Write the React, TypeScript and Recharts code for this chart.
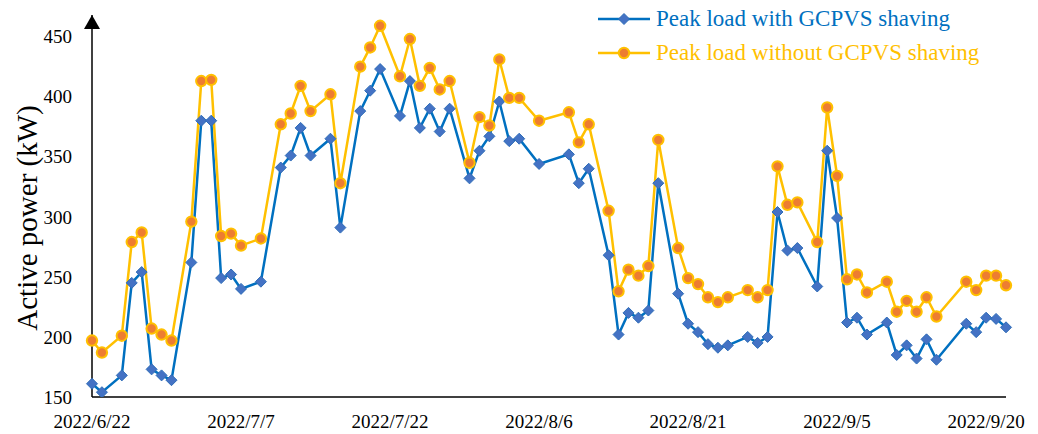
import React from 'react';
import { LineChart, Line, XAxis, YAxis, Legend } from 'recharts';

const dates = [
  "2022/6/22", "2022/6/23", "2022/6/25", "2022/6/26", "2022/6/27", "2022/6/28", "2022/6/29", "2022/6/30",
  "2022/7/2", "2022/7/3", "2022/7/4", "2022/7/5", "2022/7/6", "2022/7/7", "2022/7/9", "2022/7/11",
  "2022/7/12", "2022/7/13", "2022/7/14", "2022/7/16", "2022/7/17", "2022/7/19", "2022/7/20", "2022/7/21",
  "2022/7/23", "2022/7/24", "2022/7/25", "2022/7/26", "2022/7/27", "2022/7/28", "2022/7/30", "2022/7/31",
  "2022/8/1", "2022/8/2", "2022/8/3", "2022/8/4", "2022/8/6", "2022/8/9", "2022/8/10", "2022/8/11",
  "2022/8/13", "2022/8/14", "2022/8/15", "2022/8/16", "2022/8/17", "2022/8/18", "2022/8/20", "2022/8/21",
  "2022/8/22", "2022/8/23", "2022/8/24", "2022/8/25", "2022/8/27", "2022/8/28", "2022/8/29", "2022/8/30",
  "2022/8/31", "2022/9/1", "2022/9/3", "2022/9/4", "2022/9/5", "2022/9/6", "2022/9/7", "2022/9/8",
  "2022/9/10", "2022/9/11", "2022/9/12", "2022/9/13", "2022/9/14", "2022/9/15", "2022/9/18", "2022/9/19",
  "2022/9/20", "2022/9/21", "2022/9/22",
];

const withShaving = [
  161, 154, 168, 245, 254, 173, 168, 164,
  262, 380, 380, 249, 252, 240, 246, 341,
  351, 374, 351, 365, 291, 388, 405, 423,
  384, 413, 374, 390, 371, 390, 332, 355,
  367, 396, 363, 365, 344, 352, 328, 340,
  268, 202, 220, 216, 222, 328, 236, 211,
  204, 194, 191, 193, 200, 195, 200, 304,
  272, 274, 242, 355, 299, 212, 216, 202,
  212, 185, 193, 182, 198, 181, 211, 204,
  216, 215, 208,
];

const withoutShaving = [
  197, 187, 201, 279, 287, 207, 202, 197,
  296, 413, 414, 284, 286, 276, 282, 377,
  386, 409, 388, 402, 328, 425, 441, 459,
  417, 448, 409, 424, 406, 413, 345, 383,
  376, 431, 399, 399, 380, 387, 362, 377,
  305, 238, 256, 251, 259, 364, 274, 249,
  244, 233, 229, 233, 239, 233, 239, 342,
  310, 312, 279, 391, 334, 248, 252, 237,
  246, 221, 230, 221, 233, 217, 246, 239,
  251, 251, 243,
];

const xTickLabels = ["2022/6/22", "2022/7/7", "2022/7/22", "2022/8/6", "2022/8/21", "2022/9/5", "2022/9/20"];
const yTicks = [150, 200, 250, 300, 350, 400, 450];

const BLUE = '#0070C0';
const YELLOW = '#FFC000';
const FONT = '"Liberation Serif", "Times New Roman", serif';

const toDay = (s: string) => {
  const [y, m, d] = s.split('/').map(Number);
  return Math.round((Date.UTC(y, m - 1, d) - Date.UTC(2022, 5, 22)) / 86400000);
};

const data = dates.map((d, i) => ({
  day: toDay(d),
  date: d,
  withShaving: withShaving[i],
  withoutShaving: withoutShaving[i],
}));

const tickDays = xTickLabels.map(toDay);

const Diamond = (props: any) => {
  const { cx, cy } = props;
  if (cx == null || cy == null) return null;
  const s = 5.5;
  return (
    <polygon
      points={`${cx},${cy - s} ${cx + s},${cy} ${cx},${cy + s} ${cx - s},${cy}`}
      fill="#4472C4"
      stroke="#2E6DB8"
      strokeWidth={1}
    />
  );
};

const Circle = (props: any) => {
  const { cx, cy } = props;
  if (cx == null || cy == null) return null;
  return <circle cx={cx} cy={cy} r={5.2} fill="#ED7D31" stroke={YELLOW} strokeWidth={2} />;
};

const legendItems = [
  { name: 'Peak load with GCPVS shaving', color: BLUE, marker: 'diamond' },
  { name: 'Peak load without GCPVS shaving', color: YELLOW, marker: 'circle' },
];

const renderLegend = () => (
  <div style={{ fontFamily: FONT, fontSize: 23 }}>
    {legendItems.map((it) => (
      <div key={it.name} style={{ display: 'flex', alignItems: 'center', height: 34 }}>
        <svg width={60} height={20}>
          <line x1={2} y1={10} x2={54} y2={10} stroke={it.color} strokeWidth={2.5} />
          {it.marker === 'diamond' ? (
            <Diamond cx={28} cy={10} />
          ) : (
            <Circle cx={28} cy={10} />
          )}
        </svg>
        <span style={{ color: it.color, whiteSpace: 'nowrap' }}>{it.name}</span>
      </div>
    ))}
  </div>
);

export default function App() {
  return (
    <div style={{ position: 'absolute', left: 0, top: 0, background: '#fff' }}>
      <LineChart
        width={1038}
        height={434}
        data={data}
        margin={{ top: 15, right: 32, bottom: 0, left: 0 }}
      >
        <defs>
          <marker
            id="yArrow"
            viewBox="0 0 14 16"
            markerWidth={14}
            markerHeight={16}
            refX={14}
            refY={8}
            markerUnits="userSpaceOnUse"
            orient="auto-start-reverse"
          >
            <path d="M0,0 L14,8 L0,16 z" fill="#000" />
          </marker>
        </defs>
        <XAxis
          type="number"
          dataKey="day"
          domain={[0, 92]}
          ticks={tickDays}
          tickFormatter={(v: number) => xTickLabels[tickDays.indexOf(v)] ?? ''}
          axisLine={{ stroke: '#000', strokeWidth: 1.5 }}
          tickLine={false}
          tickSize={0}
          tickMargin={18}
          height={37}
          interval={0}
          tick={{ fill: '#000', fontFamily: FONT, fontSize: 19 }}
        />
        <YAxis
          type="number"
          domain={[150, 468]}
          ticks={yTicks}
          allowDataOverflow
          axisLine={{ stroke: '#000', strokeWidth: 1.5, markerStart: 'url(#yArrow)' }}
          tickLine={false}
          tickSize={0}
          tickMargin={20}
          width={92}
          interval={0}
          tick={{ fill: '#000', fontFamily: FONT, fontSize: 19 }}
          label={({ viewBox }: any) => (
            <text
              x={viewBox.x + 27}
              y={viewBox.y + viewBox.height / 2 + 12}
              transform={`rotate(-90, ${viewBox.x + 27}, ${viewBox.y + viewBox.height / 2 + 12})`}
              textAnchor="middle"
              dominantBaseline="central"
              fontFamily={FONT}
              fontSize={29}
              fill="#000"
            >
              Active power (kW)
            </text>
          )}
        />
        <Legend
          layout="vertical"
          align="center"
          verticalAlign="middle"
          content={renderLegend}
          wrapperStyle={{ top: 2, left: 596, width: 440, height: 70 }}
        />
        <Line
          type="linear"
          dataKey="withShaving"
          stroke={BLUE}
          strokeWidth={2.5}
          dot={<Diamond />}
          activeDot={false}
          isAnimationActive={false}
        />
        <Line
          type="linear"
          dataKey="withoutShaving"
          stroke={YELLOW}
          strokeWidth={2.5}
          dot={<Circle />}
          activeDot={false}
          isAnimationActive={false}
        />
      </LineChart>
    </div>
  );
}
